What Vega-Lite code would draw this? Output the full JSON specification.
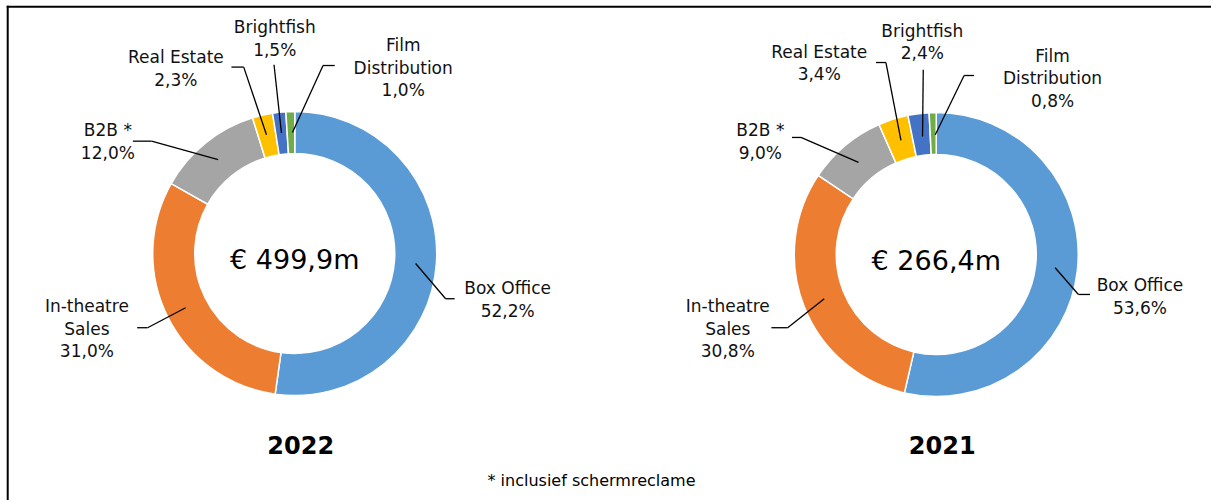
{
  "$schema": "https://vega.github.io/schema/vega-lite/v6.json",
  "width": 1212,
  "height": 501,
  "autosize": {"type": "fit", "contains": "padding"},
  "padding": 0,
  "background": "white",
  "config": {"view": {"stroke": null}},
  "datasets": {
    "slices": [
      {"year": "2022", "segment": "Box Office", "share": 52.2, "order": 1},
      {"year": "2022", "segment": "In-theatre Sales", "share": 31.0, "order": 2},
      {"year": "2022", "segment": "B2B", "share": 12.0, "order": 3},
      {"year": "2022", "segment": "Real Estate", "share": 2.3, "order": 4},
      {"year": "2022", "segment": "Brightfish", "share": 1.5, "order": 5},
      {"year": "2022", "segment": "Film Distribution", "share": 1.0, "order": 6},
      {"year": "2021", "segment": "Box Office", "share": 53.6, "order": 1},
      {"year": "2021", "segment": "In-theatre Sales", "share": 30.8, "order": 2},
      {"year": "2021", "segment": "B2B", "share": 9.0, "order": 3},
      {"year": "2021", "segment": "Real Estate", "share": 3.4, "order": 4},
      {"year": "2021", "segment": "Brightfish", "share": 2.4, "order": 5},
      {"year": "2021", "segment": "Film Distribution", "share": 0.8, "order": 6}
    ],
    "centers": [
      {"year": "2022", "total": 499.9, "cx": 0, "cy": 0},
      {"year": "2021", "total": 266.4, "cx": 4.49, "cy": -0.007}
    ],
    "annotations": [
      {"k": "2022|Box Office", "disp": "Box Office", "tx": 1.49, "ty": -0.252, "ax": 0.846, "ay": -0.07, "bx": 1.056, "by": -0.317, "ex": 1.119, "ey": -0.317},
      {"k": "2022|In-theatre Sales", "disp": "In-theatre\nSales", "tx": -1.455, "ty": -0.378, "ax": -0.764, "ay": -0.38, "bx": -1.03, "by": -0.52, "ex": -1.103, "ey": -0.52},
      {"k": "2022|B2B", "disp": "B2B *", "tx": -1.308, "ty": 0.855, "ax": -0.536, "ay": 0.657, "bx": -1.002, "by": 0.787, "ex": -1.133, "ey": 0.787},
      {"k": "2022|Real Estate", "disp": "Real Estate", "tx": -0.832, "ty": 1.369, "ax": -0.198, "ay": 0.832, "bx": -0.357, "by": 1.306, "ex": -0.443, "ey": 1.306},
      {"k": "2022|Brightfish", "disp": "Brightfish", "tx": -0.14, "ty": 1.578, "ax": -0.093, "ay": 0.844, "bx": -0.145, "by": 1.322, "ex": -0.145, "ey": 1.322},
      {"k": "2022|Film Distribution", "disp": "Film\nDistribution", "tx": 0.759, "ty": 1.452, "ax": -0.016, "ay": 0.848, "bx": 0.198, "by": 1.317, "ex": 0.28, "ey": 1.317},
      {"k": "2021|Box Office", "disp": "Box Office", "tx": 5.916, "ty": -0.231, "ax": 5.322, "ay": -0.1, "bx": 5.485, "by": -0.287, "ex": 5.566, "ey": -0.287},
      {"k": "2021|In-theatre Sales", "disp": "In-theatre\nSales", "tx": 3.031, "ty": -0.378, "ax": 3.706, "ay": -0.317, "bx": 3.45, "by": -0.52, "ex": 3.336, "ey": -0.52},
      {"k": "2021|B2B", "disp": "B2B *", "tx": 3.259, "ty": 0.855, "ax": 3.946, "ay": 0.638, "bx": 3.543, "by": 0.813, "ex": 3.48, "ey": 0.813},
      {"k": "2021|Real Estate", "disp": "Real Estate", "tx": 3.671, "ty": 1.406, "ax": 4.243, "ay": 0.792, "bx": 4.138, "by": 1.338, "ex": 4.068, "ey": 1.338},
      {"k": "2021|Brightfish", "disp": "Brightfish", "tx": 4.392, "ty": 1.552, "ax": 4.394, "ay": 0.82, "bx": 4.399, "by": 1.287, "ex": 4.399, "ey": 1.287},
      {"k": "2021|Film Distribution", "disp": "Film\nDistribution", "tx": 5.304, "ty": 1.38, "ax": 4.483, "ay": 0.832, "bx": 4.685, "by": 1.247, "ex": 4.755, "ey": 1.247}
    ]
  },
  "layer": [
    {
      "data": {"values": [{"edge": "left"}]},
      "mark": {"type": "rule", "stroke": "#000000", "strokeWidth": 2},
      "encoding": {
        "x": {"datum": -2.009, "type": "quantitative", "scale": {"domain": [-2.063, 6.413], "nice": false, "zero": false}, "axis": null},
        "y": {"datum": 1.736, "type": "quantitative", "scale": {"domain": [-1.727, 1.776], "nice": false, "zero": false}, "axis": null},
        "y2": {"datum": -1.727}
      }
    },
    {
      "data": {"values": [{"edge": "top"}]},
      "mark": {"type": "rule", "stroke": "#000000", "strokeWidth": 2},
      "encoding": {
        "x": {"datum": -2.016, "type": "quantitative", "scale": {"domain": [-2.063, 6.413], "nice": false, "zero": false}, "axis": null},
        "x2": {"datum": 6.413},
        "y": {"datum": 1.729, "type": "quantitative", "scale": {"domain": [-1.727, 1.776], "nice": false, "zero": false}, "axis": null}
      }
    },
    {
      "data": {"name": "slices"},
      "transform": [
        {"stack": "share", "groupby": ["year"], "sort": [{"field": "order", "order": "ascending"}], "offset": "normalize", "as": ["s0", "s1"]},
        {"lookup": "year", "from": {"data": {"name": "centers"}, "key": "year", "fields": ["cx", "cy"]}}
      ],
      "mark": {"type": "arc", "innerRadius": 100, "outerRadius": 142, "stroke": "white", "strokeWidth": 1.5},
      "encoding": {
        "x": {"field": "cx", "type": "quantitative", "scale": {"domain": [-2.063, 6.413], "nice": false, "zero": false}, "axis": null},
        "y": {"field": "cy", "type": "quantitative", "scale": {"domain": [-1.727, 1.776], "nice": false, "zero": false}, "axis": null},
        "theta": {"field": "s0", "type": "quantitative", "stack": null, "scale": {"domain": [0, 1], "range": [0, 6.283185307179586]}},
        "theta2": {"field": "s1"},
        "color": {
          "field": "segment", "type": "nominal", "legend": null,
          "scale": {
            "domain": ["Box Office", "In-theatre Sales", "B2B", "Real Estate", "Brightfish", "Film Distribution"],
            "range": ["#5B9BD5", "#ED7D31", "#A5A5A5", "#FFC000", "#4472C4", "#70AD47"]
          }
        }
      }
    },
    {
      "data": {"name": "annotations"},
      "mark": {"type": "rule", "stroke": "#000000", "strokeWidth": 1.3},
      "encoding": {
        "x": {"field": "ax", "type": "quantitative", "scale": {"domain": [-2.063, 6.413], "nice": false, "zero": false}, "axis": null},
        "y": {"field": "ay", "type": "quantitative", "scale": {"domain": [-1.727, 1.776], "nice": false, "zero": false}, "axis": null},
        "x2": {"field": "bx"},
        "y2": {"field": "by"}
      }
    },
    {
      "data": {"name": "annotations"},
      "mark": {"type": "rule", "stroke": "#000000", "strokeWidth": 1.3},
      "encoding": {
        "x": {"field": "bx", "type": "quantitative", "scale": {"domain": [-2.063, 6.413], "nice": false, "zero": false}, "axis": null},
        "y": {"field": "by", "type": "quantitative", "scale": {"domain": [-1.727, 1.776], "nice": false, "zero": false}, "axis": null},
        "x2": {"field": "ex"},
        "y2": {"field": "ey"}
      }
    },
    {
      "data": {"name": "slices"},
      "transform": [
        {"calculate": "datum.year + '|' + datum.segment", "as": "k"},
        {"lookup": "k", "from": {"data": {"name": "annotations"}, "key": "k", "fields": ["disp", "tx", "ty"]}},
        {"calculate": "datum.disp + '\\n' + replace(format(datum.share, '.1f'), '.', ',') + '%'", "as": "lbl"}
      ],
      "mark": {"type": "text", "align": "center", "baseline": "middle", "lineBreak": "\n", "lineHeight": 22.5, "font": "DejaVu Sans", "fontSize": 17, "fill": "#111111"},
      "encoding": {
        "x": {"field": "tx", "type": "quantitative", "scale": {"domain": [-2.063, 6.413], "nice": false, "zero": false}, "axis": null},
        "y": {"field": "ty", "type": "quantitative", "scale": {"domain": [-1.727, 1.776], "nice": false, "zero": false}, "axis": null},
        "text": {"field": "lbl", "type": "nominal"}
      }
    },
    {
      "data": {"name": "centers"},
      "transform": [
        {"calculate": "'€ ' + replace(format(datum.total, '.1f'), '.', ',') + 'm'", "as": "totalLabel"}
      ],
      "mark": {"type": "text", "align": "center", "baseline": "middle", "dy": 8, "font": "DejaVu Sans", "fontSize": 27, "fill": "#000000"},
      "encoding": {
        "x": {"field": "cx", "type": "quantitative", "scale": {"domain": [-2.063, 6.413], "nice": false, "zero": false}, "axis": null},
        "y": {"field": "cy", "type": "quantitative", "scale": {"domain": [-1.727, 1.776], "nice": false, "zero": false}, "axis": null},
        "text": {"field": "totalLabel", "type": "nominal"}
      }
    },
    {
      "data": {"name": "centers"},
      "mark": {"type": "text", "align": "center", "baseline": "middle", "dx": 6, "font": "DejaVu Sans", "fontSize": 24, "fontWeight": "bold", "fill": "#000000"},
      "encoding": {
        "x": {"field": "cx", "type": "quantitative", "scale": {"domain": [-2.063, 6.413], "nice": false, "zero": false}, "axis": null},
        "y": {"datum": -1.357, "type": "quantitative", "scale": {"domain": [-1.727, 1.776], "nice": false, "zero": false}, "axis": null},
        "text": {"field": "year", "type": "nominal"}
      }
    },
    {
      "data": {"values": [{"note": "* inclusief schermreclame"}]},
      "mark": {"type": "text", "align": "center", "baseline": "middle", "font": "DejaVu Sans", "fontSize": 16, "fill": "#000000"},
      "encoding": {
        "x": {"datum": 2.077, "type": "quantitative", "scale": {"domain": [-2.063, 6.413], "nice": false, "zero": false}, "axis": null},
        "y": {"datum": -1.594, "type": "quantitative", "scale": {"domain": [-1.727, 1.776], "nice": false, "zero": false}, "axis": null},
        "text": {"field": "note", "type": "nominal"}
      }
    }
  ]
}
